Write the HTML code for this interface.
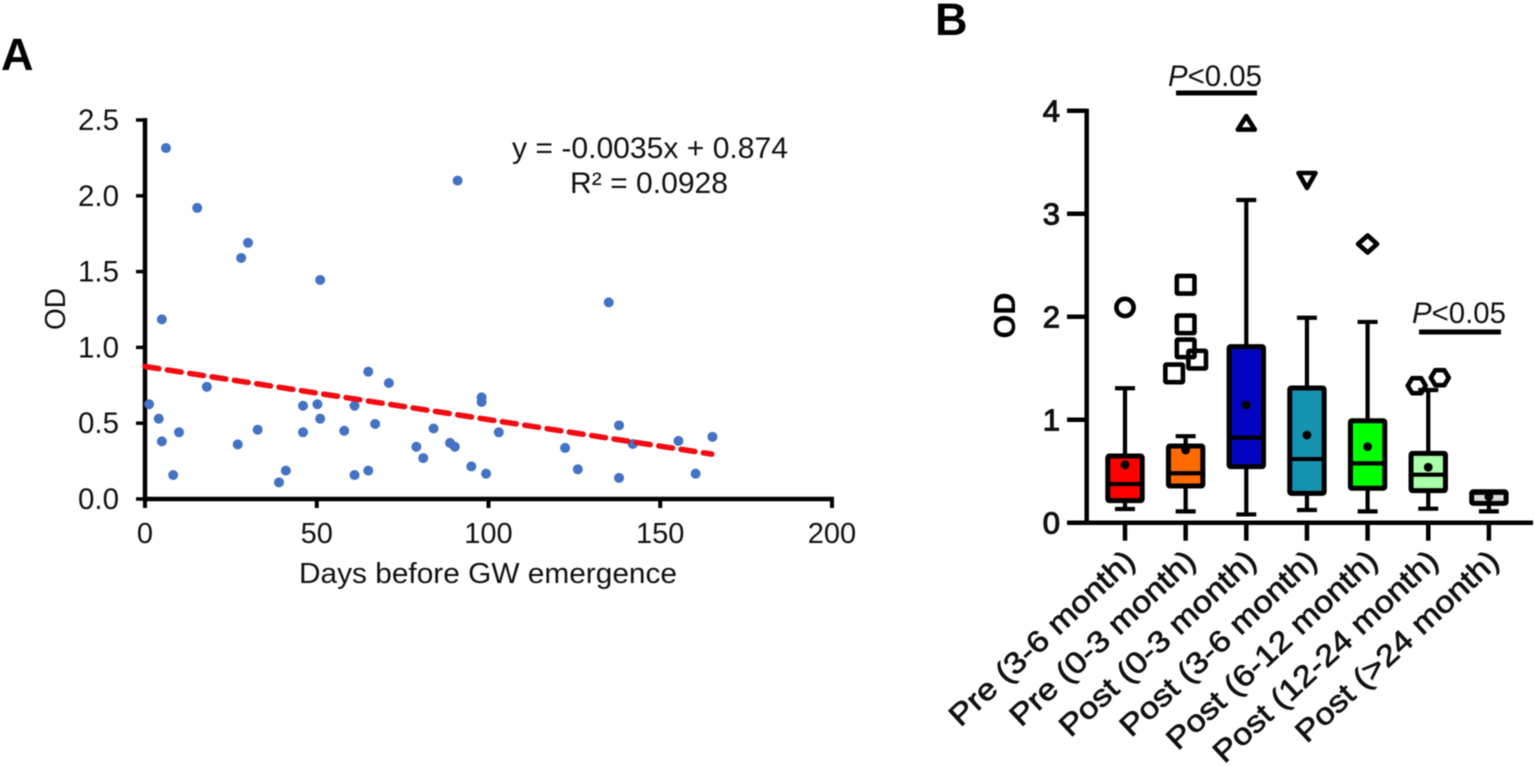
<!DOCTYPE html>
<html lang="en">
<head>
<meta charset="utf-8">
<title>OD charts</title>
<style>
html,body{margin:0;padding:0;background:#fff;width:1535px;height:766px;overflow:hidden}
svg{display:block;filter:blur(0.45px)}
text{font-family:"Liberation Sans",Arial,sans-serif;fill:#111}
</style>
</head>
<body>
<svg id="fig" xmlns="http://www.w3.org/2000/svg" width="1535" height="766" viewBox="0 0 1535 766">
  <rect width="1535" height="766" fill="#fff"/>
  <text x="1" y="70" font-size="45" font-weight="bold" style="fill:#000">A</text>
  <text x="935" y="35" font-size="45" font-weight="bold" style="fill:#000">B</text>

  <g id="panelA">
    <text transform="translate(65,309) rotate(-90)" text-anchor="middle" font-size="29" textLength="42" lengthAdjust="spacingAndGlyphs">OD</text>
    <text x="299" y="583" font-size="29" textLength="378" lengthAdjust="spacingAndGlyphs">Days before GW emergence</text>
    <text x="512" y="158" font-size="29.5" textLength="276" lengthAdjust="spacingAndGlyphs">y = -0.0035x + 0.874</text>
    <text x="570" y="193" font-size="29.5" textLength="158" lengthAdjust="spacingAndGlyphs">R² = 0.0928</text>
  </g>

  <g id="panelB">
    <text transform="translate(1015,315.5) rotate(-90)" text-anchor="middle" font-size="31" font-weight="bold" textLength="46" lengthAdjust="spacingAndGlyphs" style="fill:#000">OD</text>
    <text x="1168" y="86" font-size="29.5" textLength="94" lengthAdjust="spacingAndGlyphs"><tspan font-style="italic">P</tspan>&lt;0.05</text>
    <line x1="1176" x2="1257" y1="93" y2="93" stroke="#000" stroke-width="5"/>
    <text x="1412" y="323" font-size="29.5" textLength="94" lengthAdjust="spacingAndGlyphs"><tspan font-style="italic">P</tspan>&lt;0.05</text>
    <line x1="1419" x2="1501" y1="332" y2="332" stroke="#000" stroke-width="5"/>
  </g>
</svg>

<script>
// ---------- Panel A data ----------
const scatterDays = [6.1,15.2,30,28,51,4.9,18,1.2,4,4.9,9.9,8.2,27,32.8,39,41,46,46,50.2,51,58,61,61,65,65,67,71,79,81,84,88.8,91,135,98,98,90.2,103,95,99.3,122.3,126,138,138,142,155.3,160.3,165.2];
const scatterOD = [2.315,1.92,1.69,1.59,1.445,1.185,0.74,0.625,0.53,0.38,0.44,0.158,0.36,0.457,0.11,0.187,0.615,0.44,0.625,0.53,0.45,0.615,0.158,0.84,0.187,0.495,0.765,0.345,0.27,0.465,0.37,2.10,1.297,0.67,0.64,0.345,0.44,0.215,0.167,0.337,0.196,0.486,0.139,0.363,0.383,0.167,0.41];
const trendDays = [0,165];
const trendOD = [0.874,0.296];
const aXTicks = [0,50,100,150,200];
const aYTicks = ["0.0","0.5","1.0","1.5","2.0","2.5"];

// ---------- Panel B data ----------
const groupLabels = ["Pre (3-6 month)","Pre (0-3 month)","Post (0-3 month)","Post (3-6 month)","Post (6-12 month)","Post (12-24 month)","Post (>24 month)"];
const boxQ1 = [0.214,0.356,0.544,0.285,0.334,0.311,0.188];
const boxMedian = [0.375,0.48,0.825,0.618,0.576,0.466,0.29];
const boxQ3 = [0.647,0.745,1.71,1.308,0.99,0.673,0.30];
const whiskerLow = [0.133,0.11,0.08,0.123,0.11,0.136,0.11];
const whiskerHigh = [1.305,0.84,3.133,1.99,1.949,1.288,0.30];
const boxMean = [0.563,0.706,1.143,0.851,0.738,0.538,0.252];
const outlierGroup = [0,1,1,1,1.19,0.81,2,3,4,4.81,5.19];
const outlierOD = [2.09,2.31,1.926,1.693,1.583,1.45,3.88,3.327,2.706,1.33,1.408];
const bYTicks = [0,1,2,3,4];

// ---------- Styles ----------
const boxFills = ["#ff0000","#ff6a00","#0404c0","#1793b2","#00ff00","#aaffaa","#dddddd"];

// ---------- Axis functions ----------
const ax = v => 145 + v * 3.435;
const ay = v => 499 - v * 151.6;
const bx = i => 1125 + i * 60.65;
const by = v => 522.7 - v * 103;

const NS = "http://www.w3.org/2000/svg";
function mk(parent, tag, attrs, txt) {
  const el = document.createElementNS(NS, tag);
  for (const k in attrs) el.setAttribute(k, attrs[k]);
  if (txt !== undefined) el.textContent = txt;
  parent.appendChild(el);
  return el;
}
const A = document.getElementById("panelA");
const B = document.getElementById("panelB");
let el;

// ---------- Panel A ----------
el = mk(A, "line", {x1:ax(0), x2:ax(0), y1:ay(2.5)-2, y2:ay(0)+2, stroke:"#000","stroke-width":4.5});


el = mk(A, "line", {x1:ax(0)-2, x2:ax(200)+2, y1:ay(0), y2:ay(0), stroke:"#000","stroke-width":4.5});



aYTicks.forEach(t => {
  const v = parseFloat(t);
  el = mk(A, "line", {x1:ax(0)-9, x2:ax(0), y1:ay(v), y2:ay(v), stroke:"#000","stroke-width":3.5});
  
  
  el = mk(A, "text", {x:119, y:ay(v)+10, "font-size":29.5, "text-anchor":"end", textLength:41, lengthAdjust:"spacingAndGlyphs"}, t);
  
  
});
aXTicks.forEach(t => {
  el = mk(A, "line", {x1:ax(t), x2:ax(t), y1:ay(0), y2:ay(0)+9, stroke:"#000","stroke-width":4});
  
  
  el = mk(A, "text", {x:ax(t), y:543, "font-size":29, "text-anchor":"middle"}, String(t));
  
  
});
scatterDays.forEach((d, i) => {
  el = mk(A, "circle", {cx:ax(d), cy:ay(scatterOD[i]), r:5, fill:"#4472c4"});
  
  
});
el = mk(A, "line", {x1:ax(trendDays[0]), y1:ay(trendOD[0]), x2:ax(trendDays[1]), y2:ay(trendOD[1]), stroke:"#f40a10","stroke-width":5.5,"stroke-dasharray":"14 8.6","stroke-linecap":"round"});



// ---------- Panel B ----------
el = mk(B, "line", {x1:1086.7, x2:1086.7, y1:by(4)-2, y2:by(0)+2, stroke:"#000","stroke-width":4.5});


el = mk(B, "line", {x1:1067, x2:1533, y1:by(0), y2:by(0), stroke:"#000","stroke-width":4.5});



bYTicks.forEach(t => {
  el = mk(B, "line", {x1:1067, x2:1087, y1:by(t), y2:by(t), stroke:"#000","stroke-width":4.5});
  
  
  el = mk(B, "text", {x:1060, y:by(t)+11, "font-size":31, "text-anchor":"end", stroke:"#111","stroke-width":1.1}, String(t));
  
  
});

groupLabels.forEach((label, i) => {
  const x = bx(i);
  el = mk(B, "line", {x1:x, x2:x, y1:by(0), y2:by(0)+18, stroke:"#000","stroke-width":4.5});
  
  
  el = mk(B, "text", {transform:"translate(" + (x + 12) + ",563) rotate(-43) scale(1.15,1)", "text-anchor":"end", "font-size":30, stroke:"#111","stroke-width":0.7}, label);
  
  

  el = mk(B, "line", {x1:x, x2:x, y1:by(whiskerHigh[i]), y2:by(whiskerLow[i]), stroke:"#000","stroke-width":4.2});
  
  
  el = mk(B, "line", {x1:x-10, x2:x+10, y1:by(whiskerHigh[i]), y2:by(whiskerHigh[i]), stroke:"#000","stroke-width":4.2});
  
  
  el = mk(B, "line", {x1:x-10, x2:x+10, y1:by(whiskerLow[i]), y2:by(whiskerLow[i]), stroke:"#000","stroke-width":4.2});
  
  
  el = mk(B, "rect", {x:x-17.2, width:34.4, y:by(boxQ3[i]), height:by(boxQ1[i])-by(boxQ3[i]), fill:boxFills[i], stroke:"#000","stroke-width":5, rx:1.5});
  
  
  el = mk(B, "line", {x1:x-17.5, x2:x+17.5, y1:by(boxMedian[i]), y2:by(boxMedian[i]), stroke:"#000","stroke-width":4.2});
  
  
  el = mk(B, "circle", {cx:x, cy:by(boxMean[i]), r:4.4, fill:"#000"});
  
  
});

function poly(pts) {
  return pts.map(p => p[0].toFixed(1) + "," + p[1].toFixed(1)).join(" ");
}
outlierGroup.forEach((g, i) => {
  const x = bx(g), y = by(outlierOD[i]), kind = Math.round(g);
  const style = {fill:"none", stroke:"#000", "stroke-width":4.6, "stroke-linejoin":"round"};
  if (kind === 0) {
    el = mk(B, "circle", Object.assign({cx:x, cy:y, r:8.6}, style));
  } else if (kind === 1) {
    el = mk(B, "rect", Object.assign({x:x-8.8, y:y-8.8, width:17.6, height:17.6, rx:1}, style));
  } else if (kind === 2) {
    el = mk(B, "polygon", Object.assign({points:poly([[x,y-7],[x+8.5,y+6.5],[x-8.5,y+6.5]])}, style));
  } else if (kind === 3) {
    el = mk(B, "polygon", Object.assign({points:poly([[x-8.5,y-7],[x+8.5,y-7],[x,y+8]])}, style));
  } else if (kind === 4) {
    el = mk(B, "polygon", Object.assign({points:poly([[x,y-8.5],[x+9.5,y],[x,y+8.5],[x-9.5,y]])}, style));
  } else {
    el = mk(B, "polygon", Object.assign({points:poly([[x-9,y],[x-4.5,y-7.5],[x+4.5,y-7.5],[x+9,y],[x+4.5,y+7.5],[x-4.5,y+7.5]])}, style));
  }
  
  
});
</script>
</body>
</html>
